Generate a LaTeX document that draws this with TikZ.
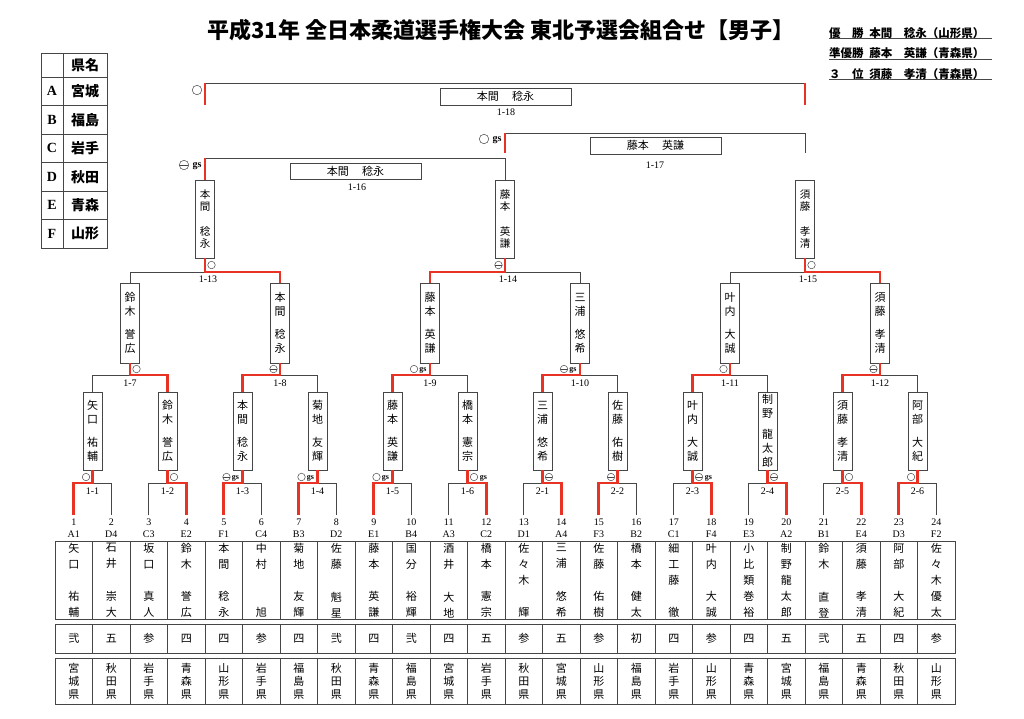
\documentclass[tikz,border=0pt]{standalone}
\usepackage{fontspec}
\setmainfont{Liberation Serif}
\newfontfamily\jp{Noto Sans CJK JP}
\definecolor{winred}{RGB}{232,50,36}
\definecolor{ln}{RGB}{70,70,70}
\tikzstyle{lose}=[draw=ln,line width=0.9pt]
\tikzstyle{win}=[draw=winred,line width=2.8pt]
\tikzstyle{vb}=[draw=ln,line width=0.8pt,minimum width=19pt,inner sep=0pt,align=center,font=\jp\fontsize{11}{14}\selectfont]
\tikzstyle{hb}=[draw=ln,line width=0.8pt,minimum width=131pt,minimum height=17pt,inner sep=0pt,font=\jp\fontsize{11}{12}\selectfont]
\tikzstyle{num}=[font=\fontsize{10}{10}\selectfont,inner sep=0pt]
\tikzstyle{mk}=[circle,draw=ln,line width=0.5pt,minimum size=7.5pt,inner sep=0pt]
\tikzstyle{mkh}=[mk,path picture={\draw[ln,line width=0.5pt] (path picture bounding box.west) -- (path picture bounding box.east);}]
\tikzstyle{gs}=[font=\bfseries\fontsize{8}{8}\selectfont,inner sep=0pt]
\tikzstyle{tcell}=[draw=ln,line width=0.8pt,minimum width=37.5pt,inner sep=0pt]
\tikzstyle{txt}=[font=\jp\fontsize{11}{16}\selectfont,inner sep=0.5pt,align=center]
\tikzstyle{wl}=[anchor=west,inner sep=0pt,text width=163pt,font=\jp\bfseries\fontsize{11.5}{11.5}\selectfont]
\begin{document}
\begin{tikzpicture}[x=1pt,y=-1pt]
    \fill[white] (0,0) rectangle (1024,718);
    \useasboundingbox (0,0) rectangle (1024,718);
    % title and results
    \node[font=\jp\bfseries\fontsize{22}{22}\selectfont] (title) at (501,30)
        {平成31年 全日本柔道選手権大会 東北予選会組合せ【男子】};
    \node[wl] (w1) at (829,33) {優\hspace{1em}勝\hspace{0.5em}本間\hspace{1em}稔永（山形県）};
    \node[wl] (w2) at (829,53.5) {準優勝\hspace{0.5em}藤本\hspace{1em}英謙（青森県）};
    \node[wl] (w3) at (829,74) {３\hspace{1em}位\hspace{0.5em}須藤\hspace{1em}孝清（青森県）};
    \draw[lose] (w1.south west) -- (w1.south east);
    \draw[lose] (w2.south west) -- (w2.south east);
    \draw[lose] (w3.south west) -- (w3.south east);
    % prefecture key
    \node[tcell,minimum width=22pt,minimum height=24pt] (lk0) at (52,65) {};
    \node[tcell,minimum width=44pt,minimum height=24pt,font=\jp\bfseries\fontsize{14}{14}\selectfont] (lp0) at (85,65) {県名};
    \foreach \r/\c/\p in {1/A/宮城,2/B/福島,3/C/岩手,4/D/秋田,5/E/青森,6/F/山形}{
        \node[tcell,minimum width=22pt,minimum height=28.5pt,font=\bfseries\fontsize{14}{14}\selectfont] (lk\r) at (52,62.75+28.5*\r) {\c};
        \node[tcell,minimum width=44pt,minimum height=28.5pt,font=\jp\bfseries\fontsize{14}{14}\selectfont] (lp\r) at (85,62.75+28.5*\r) {\p};
    }
    % entry table
    \foreach \i/\sd/\fa/\gi/\rk/\pf in {
        1/A1/{矢\\口}/{祐\\輔}/弐/{宮\\城\\県},
        2/D4/{石\\井}/{崇\\大}/五/{秋\\田\\県},
        3/C3/{坂\\口}/{真\\人}/参/{岩\\手\\県},
        4/E2/{鈴\\木}/{誉\\広}/四/{青\\森\\県},
        5/F1/{本\\間}/{稔\\永}/四/{山\\形\\県},
        6/C4/{中\\村}/{旭}/参/{岩\\手\\県},
        7/B3/{菊\\地}/{友\\輝}/四/{福\\島\\県},
        8/D2/{佐\\藤}/{魁\\星}/弐/{秋\\田\\県},
        9/E1/{藤\\本}/{英\\謙}/四/{青\\森\\県},
        10/B4/{国\\分}/{裕\\輝}/弐/{福\\島\\県},
        11/A3/{酒\\井}/{大\\地}/四/{宮\\城\\県},
        12/C2/{橋\\本}/{憲\\宗}/五/{岩\\手\\県},
        13/D1/{佐\\々\\木}/{輝}/参/{秋\\田\\県},
        14/A4/{三\\浦}/{悠\\希}/五/{宮\\城\\県},
        15/F3/{佐\\藤}/{佑\\樹}/参/{山\\形\\県},
        16/B2/{橋\\本}/{健\\太}/初/{福\\島\\県},
        17/C1/{細\\工\\藤}/{徹}/四/{岩\\手\\県},
        18/F4/{叶\\内}/{大\\誠}/参/{山\\形\\県},
        19/E3/{小\\比\\類\\巻}/{裕}/四/{青\\森\\県},
        20/A2/{制\\野}/{龍\\太\\郎}/五/{宮\\城\\県},
        21/B1/{鈴\\木}/{直\\登}/弐/{福\\島\\県},
        22/E4/{須\\藤}/{孝\\清}/五/{青\\森\\県},
        23/D3/{阿\\部}/{大\\紀}/四/{秋\\田\\県},
        24/F2/{佐\\々\\木}/{優\\太}/参/{山\\形\\県}}{
        \coordinate (L\i) at (36.25+37.5*\i,515);
        \node[num] (n\i) at (36.25+37.5*\i,522) {\i};
        \node[num] (s\i) at (36.25+37.5*\i,534) {\sd};
        \node[tcell,minimum height=78pt] (nc\i) at (36.25+37.5*\i,580) {};
        \node[txt,anchor=north,inner ysep=2.5pt] (nf\i) at (nc\i.north) {\fa};
        \node[txt,anchor=south,inner ysep=1.5pt] (ng\i) at (nc\i.south) {\gi};
        \node[tcell,minimum height=29pt] (rc\i) at (36.25+37.5*\i,638.5) {};
        \node[txt] (rk\i) at (rc\i) {\rk};
        \node[tcell,minimum height=46pt] (pc\i) at (36.25+37.5*\i,681) {};
        \node[txt,font=\jp\fontsize{11}{13}\selectfont] (pf\i) at (pc\i) {\pf};
    }
    % first round
    \foreach \k/\wi/\lo/\lab/\nm in {
        1/1/2/1-1/{矢\\口\\[9pt]祐\\輔},
        2/4/3/1-2/{鈴\\木\\[9pt]誉\\広},
        3/5/6/1-3/{本\\間\\[9pt]稔\\永},
        4/7/8/1-4/{菊\\地\\[9pt]友\\輝},
        5/9/10/1-5/{藤\\本\\[9pt]英\\謙},
        6/12/11/1-6/{橋\\本\\[9pt]憲\\宗},
        7/14/13/2-1/{三\\浦\\[9pt]悠\\希},
        8/15/16/2-2/{佐\\藤\\[9pt]佑\\樹},
        9/18/17/2-3/{叶\\内\\[9pt]大\\誠},
        10/20/19/2-4/{制\\野\\[7pt]龍\\太\\郎},
        11/22/21/2-5/{須\\藤\\[9pt]孝\\清},
        12/23/24/2-6/{阿\\部\\[9pt]大\\紀}}{
        \coordinate (j\k) at (17.5+75*\k,483);
        \node[vb,minimum height=78pt] (m\k) at (17.5+75*\k,431) {\nm};
        \draw[lose] (L\lo) |- (j\k);
        \draw[win] (L\wi) |- (j\k) -- (m\k.south);
        \node[num] (lm\k) at (17.5+75*\k,491) {\lab};
    }
    % second round
    \foreach \k/\wi/\lo/\lab/\nm in {
        1/2/1/1-7/{鈴\\木\\[9pt]誉\\広},
        2/3/4/1-8/{本\\間\\[9pt]稔\\永},
        3/5/6/1-9/{藤\\本\\[9pt]英\\謙},
        4/7/8/1-10/{三\\浦\\[9pt]悠\\希},
        5/9/10/1-11/{叶\\内\\[9pt]大\\誠},
        6/11/12/1-12/{須\\藤\\[9pt]孝\\清}}{
        \coordinate (k\k) at (-20+150*\k,375);
        \node[vb,minimum height=80pt] (q\k) at (-20+150*\k,323) {\nm};
        \draw[lose] (m\lo.north) |- (k\k);
        \draw[win] (m\wi.north) |- (k\k) -- (q\k.south);
        \node[num] (lq\k) at (-20+150*\k,383) {\lab};
    }
    % third round
    \node[vb,minimum height=78pt,font=\jp\fontsize{10.5}{12.5}\selectfont] (t1) at (205,219) {本\\間\\[12pt]稔\\永};
    \node[vb,minimum height=78pt,font=\jp\fontsize{10.5}{12.5}\selectfont] (t2) at (505,219) {藤\\本\\[12pt]英\\謙};
    \node[vb,minimum height=78pt,font=\jp\fontsize{10.5}{12.5}\selectfont] (t3) at (805,219) {須\\藤\\[12pt]孝\\清};
    \coordinate (u1) at (205,272);
    \coordinate (u2) at (505,272);
    \coordinate (u3) at (805,272);
    \draw[lose] (q1.north) |- (u1);
    \draw[win] (q2.north) |- (u1) -- (t1.south);
    \draw[lose] (q4.north) |- (u2);
    \draw[win] (q3.north) |- (u2) -- (t2.south);
    \draw[lose] (q5.north) |- (u3);
    \draw[win] (q6.north) |- (u3) -- (t3.south);
    \node[num] (lt1) at (208,279) {1-13};
    \node[num] (lt2) at (508,279) {1-14};
    \node[num] (lt3) at (808,279) {1-15};
    % final block
    \coordinate (a16) at (205,158);
    \coordinate (b16) at (505,158);
    \draw[lose] (a16) -- (b16) -- (t2.north);
    \draw[win] (t1.north) -- (a16);
    \coordinate (a17) at (505,133);
    \coordinate (b17) at (805,133);
    \coordinate (a17e) at (505,153);
    \coordinate (b17e) at (805,153);
    \draw[lose] (a17) -- (b17) -- (b17e);
    \draw[win] (a17e) -- (a17);
    \coordinate (a18) at (205,83);
    \coordinate (b18) at (805,83);
    \coordinate (a18e) at (205,105);
    \coordinate (b18e) at (805,105);
    \draw[lose] (a18) -- (b18);
    \draw[win] (a18e) -- (a18);
    \draw[win] (b18e) -- (b18);
    \node[hb] (h18) at (505.5,96.5) {本間\hspace{1.2em}稔永};
    \node[num] (l18) at (506,112) {1-18};
    \node[hb] (h17) at (655.5,145.5) {藤本\hspace{1.2em}英謙};
    \node[num] (l17) at (655,165) {1-17};
    \node[hb,minimum height=16pt] (h16) at (355.5,171) {本間\hspace{1.2em}稔永};
    \node[num] (l16) at (357,187) {1-16};
    % marks
    \node[mk] (o1) at (86,477) {};
    \node[mk] (o2) at (174,477) {};
    \node[mkh] (o3) at (226.5,477) {};
    \node[gs] (g3) at (235.5,478) {gs};
    \node[mk] (o4) at (301.5,477) {};
    \node[gs] (g4) at (310.5,478) {gs};
    \node[mk] (o5) at (376.5,477) {};
    \node[gs] (g5) at (385.5,478) {gs};
    \node[mk] (o6) at (474,477) {};
    \node[gs] (g6) at (483.5,478) {gs};
    \node[mkh] (o7) at (549,477) {};
    \node[mkh] (o8) at (611,477) {};
    \node[mkh] (o9) at (699,477) {};
    \node[gs] (g9) at (708.5,478) {gs};
    \node[mkh] (o10) at (774,477) {};
    \node[mk] (o11) at (849,477) {};
    \node[mk] (o12) at (911,477) {};
    \node[mk] (p1) at (136.5,369) {};
    \node[mkh] (p2) at (273.5,369) {};
    \node[mk] (p3) at (414,369) {};
    \node[gs] (h3) at (423,370) {gs};
    \node[mkh] (p4) at (564,369) {};
    \node[gs] (h4) at (573,370) {gs};
    \node[mk] (p5) at (723.5,369) {};
    \node[mkh] (p6) at (873.5,369) {};
    \node[mk] (r1) at (211.5,265) {};
    \node[mkh] (r2) at (498.5,265) {};
    \node[mk] (r3) at (811.5,265) {};
    \node[mkh,minimum size=9.5pt] (r16) at (184,165) {};
    \node[gs,font=\bfseries\fontsize{10}{10}\selectfont] (g16) at (197,166) {gs};
    \node[mk,minimum size=9.5pt] (r17) at (484,139) {};
    \node[gs,font=\bfseries\fontsize{10}{10}\selectfont] (g17) at (497,140) {gs};
    \node[mk,minimum size=9.5pt] (r18) at (197,90) {};
\end{tikzpicture}
\end{document}
